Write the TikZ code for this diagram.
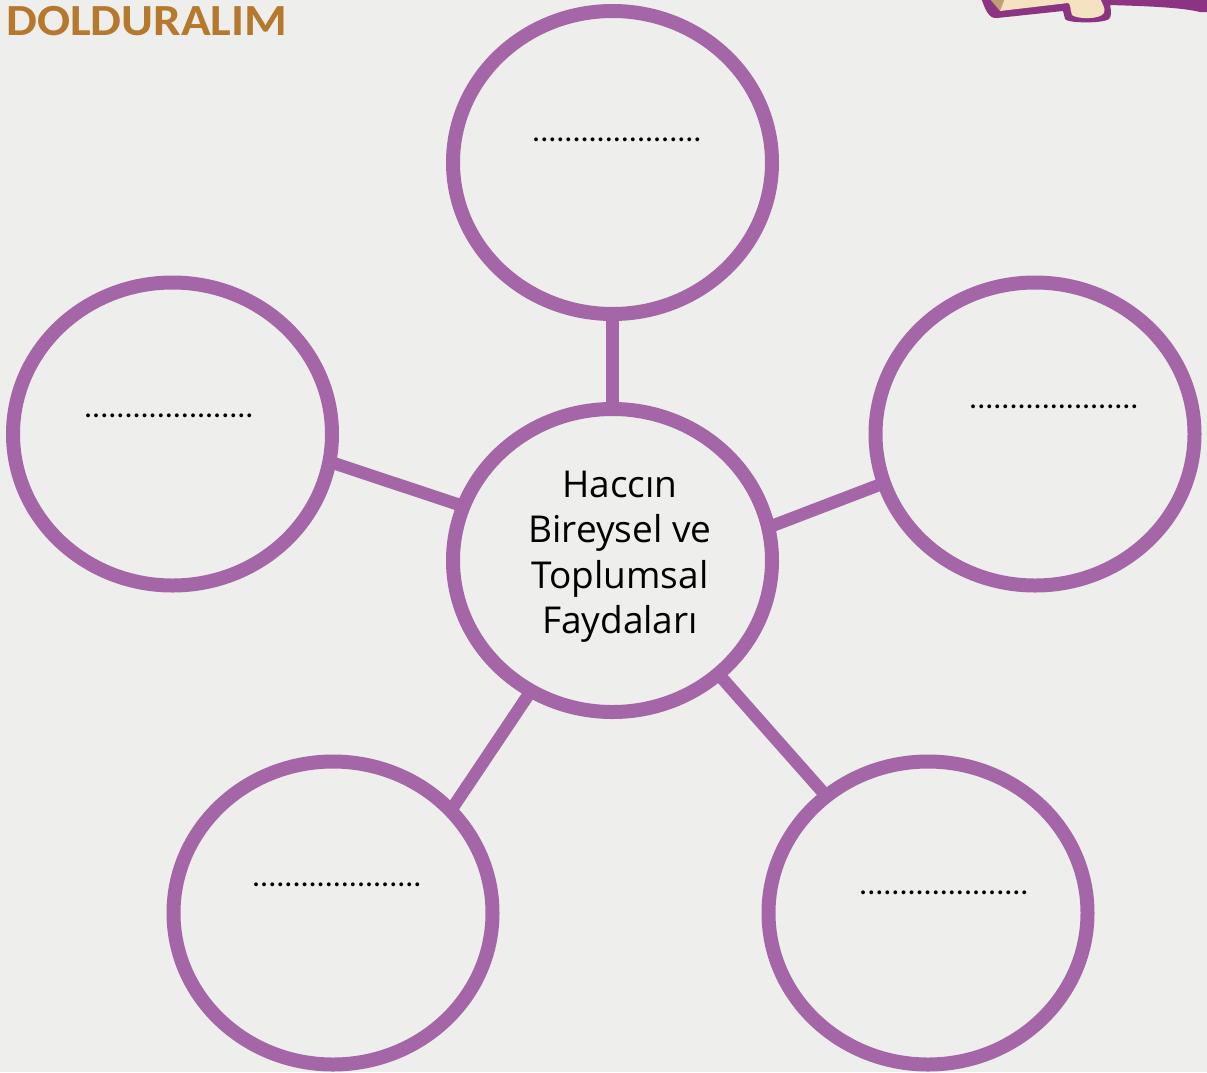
\documentclass[tikz,border=0pt]{standalone}
\usepackage{fontspec}
\setmainfont{Open Sans}
\newfontfamily\titlefont{Carlito}
\usetikzlibrary{shapes.geometric}
\definecolor{bgc}{HTML}{EEEEEC}
\definecolor{rim}{HTML}{A566A8}
\definecolor{titlec}{HTML}{B5782C}
\definecolor{scrollp}{HTML}{8C3381}
\definecolor{scrollc}{HTML}{F5E2C0}
\definecolor{scrolld}{HTML}{C29F73}
\tikzset{
  bubble/.style={draw=rim,line width=14pt,ellipse,minimum width=319pt,minimum height=303pt,inner sep=0pt,outer sep=0pt},
  link/.style={draw=rim,line width=12.5pt},
  dotsl/.style={font=\titlefont\fontsize{32}{32}\selectfont,inner sep=0pt,text=black},
  hub/.style={align=center,font=\fontsize{37}{45.5}\selectfont,inner sep=0pt,text=black},
}
\begin{document}
\begin{tikzpicture}[x=1pt,y=-1pt]
\useasboundingbox (0,0) rectangle (1207,1072);
\fill[bgc] (0,0) rectangle (1207,1072);
\clip (0,0) rectangle (1207,1072);
% scroll
\fill[scrollp] (981,-2) .. controls (985,8) and (988,19) .. (997,18) -- (1063,11) -- (1065,19) .. controls (1066,23) and (1102,24) .. (1109,19) .. controls (1112,16) and (1111,10) .. (1110,5) .. controls (1140,6) and (1180,7) .. (1200,12) -- (1207,12) -- (1207,-2) -- cycle;
\fill[scrollc] (1000,-2) -- (1000,11) -- (1068,3) .. controls (1071,4) and (1070,10) .. (1072,15) .. controls (1076,19) and (1100,20) .. (1104,13) .. controls (1106,8) and (1102,4) .. (1100,-2) -- cycle;
\fill[scrolld] (989,-2) -- (1000,11) -- (1005,-2) -- cycle;
\node[bubble] (top) at (612.5,162.5) {};
\node[bubble] (hubc) at (612.5,560.5) {};
\node[bubble] (lft) at (172.5,434) {};
\node[bubble] (rgt) at (1035,434) {};
\node[bubble] (bl) at (333,913) {};
\node[bubble] (br) at (928,913) {};
\draw[link] (top.south) -- (hubc.north);
\draw[link] (lft.-10.5) -- (hubc.160);
\draw[link] (rgt.198) -- (hubc.12);
\draw[link] (bl.41.7) -- (hubc.238);
\draw[link] (br.131) -- (hubc.-47.3);
\node[dotsl,anchor=base] (t1) at (617,141) {.....................};
\node[dotsl,anchor=base] (t2) at (169,417) {.....................};
\node[dotsl,anchor=base] (t3) at (1054,408) {.....................};
\node[dotsl,anchor=base] (t4) at (337,886) {.....................};
\node[dotsl,anchor=base] (t5) at (944,894) {.....................};
\node[hub] (label) at (620,556.5) {Haccın\\Bireysel ve\\Toplumsal\\Faydaları};
\node[anchor=base west,inner sep=0pt,xscale=1.1,text=titlec,font=\titlefont\bfseries\fontsize{44.5}{44.5}\selectfont] (title) at (6,35) {DOLDURALIM};
\end{tikzpicture}
\end{document}
